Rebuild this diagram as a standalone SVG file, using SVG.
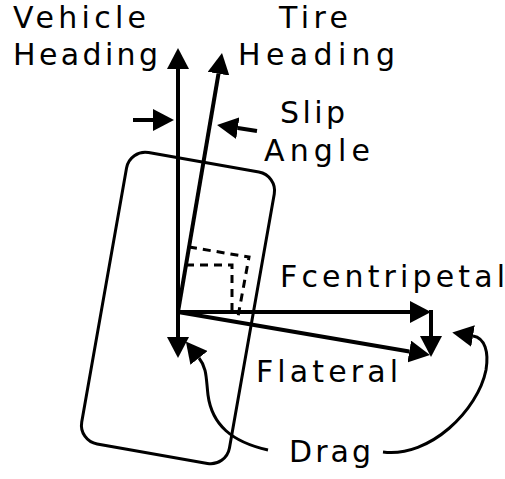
<svg xmlns="http://www.w3.org/2000/svg" width="505" height="479" viewBox="0 0 505 479">
<style>
  text { font-family: "DejaVu Sans", "Liberation Sans", Arial, sans-serif; font-size: 30px; fill: #000; }
  .ln { fill: none; stroke: #000; stroke-width: 4; }
  .thin { fill: none; stroke: #000; stroke-width: 3; }
  .dash { fill: none; stroke: #000; stroke-width: 3; stroke-dasharray: 8 6; }
</style>
<defs>
  <marker id="ah" markerUnits="userSpaceOnUse" markerWidth="22" markerHeight="22" refX="0" refY="11" orient="auto-start-reverse" viewBox="0 0 22 22">
    <path d="M0,0 L21,11 L0,22 Z" fill="#000"/>
  </marker>
</defs>
<rect width="505" height="479" fill="#fff"/>
<g id="tire">
  <rect class="thin" x="-75" y="-148" width="150" height="296" rx="19" transform="translate(178,308) rotate(10)"/>
</g>
<g id="right-angles">
  <path class="dash" d="M186,265 H232 V311"/>
  <path class="dash" d="M189,247 L249,257 L237,322"/>
</g>
<g id="connectors">
  <path class="ln" d="M178,69 V337" marker-start="url(#ah)" marker-end="url(#ah)"/>
  <path class="ln" d="M178,312 L218.5,73.7" marker-end="url(#ah)"/>
  <path class="ln" d="M178,312 H410" marker-end="url(#ah)"/>
  <path class="ln" d="M431,310 V336" marker-end="url(#ah)"/>
  <path class="ln" d="M178,312 L409.3,351.5" marker-end="url(#ah)"/>
  <path class="ln" d="M133,120 H153" marker-end="url(#ah)"/>
  <path class="ln" d="M257,131 L237.8,128.1" marker-end="url(#ah)"/>
  <path class="thin" d="M268,450 C232,442 212,425 208,395 C206,378 207,368 199,358" marker-end="url(#ah)"/>
  <path class="thin" d="M383,452 C430,458 478,410 486,370 C489,352 485,338 473,336" marker-end="url(#ah)"/>
</g>
<g id="labels">
  <text x="13" y="28" textLength="133" lengthAdjust="spacing">Vehicle</text>
  <text x="13" y="65" textLength="145" lengthAdjust="spacing">Heading</text>
  <text x="279" y="28" textLength="69" lengthAdjust="spacing">Tire</text>
  <text x="238" y="65" textLength="157" lengthAdjust="spacing">Heading</text>
  <text x="280" y="123" textLength="65" lengthAdjust="spacing">Slip</text>
  <text x="264" y="161" textLength="106" lengthAdjust="spacing">Angle</text>
  <text x="280" y="287" textLength="225" lengthAdjust="spacing">Fcentripetal</text>
  <text x="256" y="382" textLength="142" lengthAdjust="spacing">Flateral</text>
  <text x="289" y="462" textLength="82" lengthAdjust="spacing">Drag</text>
</g>
</svg>
